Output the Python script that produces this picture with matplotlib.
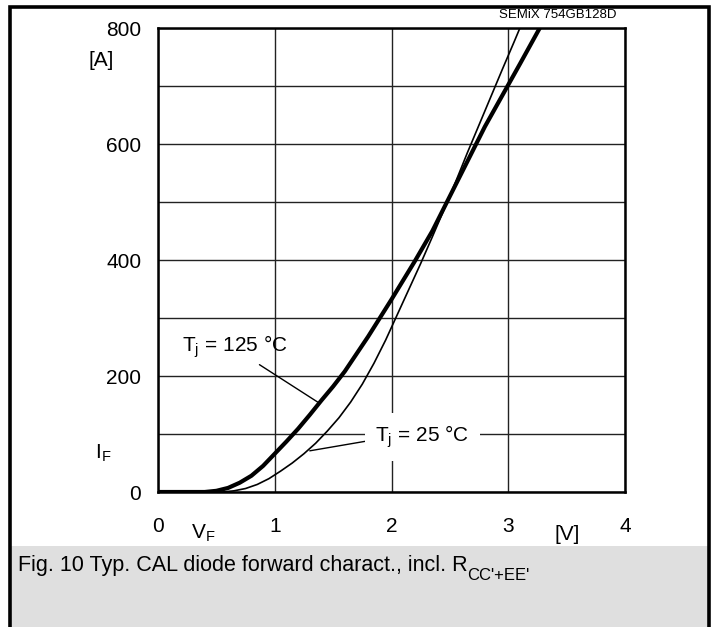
import matplotlib
matplotlib.use('Agg')
import matplotlib.pyplot as plt
from matplotlib.patches import Rectangle
from matplotlib.text import Annotation

plt.rcParams['font.family'] = ['Liberation Sans', 'DejaVu Sans']
plt.rcParams['mathtext.fontset'] = 'custom'
plt.rcParams['mathtext.rm'] = 'Liberation Sans'

# ===================== data =====================
vf_125 = [0, 0.40, 0.50, 0.60, 0.70, 0.80, 0.90, 1.00, 1.10, 1.20, 1.30, 1.40, 1.50, 1.60,
          1.70, 1.80, 1.90, 2.00, 2.10, 2.20, 2.35, 2.50, 2.65, 2.80, 2.95, 3.10, 3.27]
if_125 = [0, 0, 2, 7, 16, 28, 45, 66, 87, 109, 133, 158, 182, 208,
          238, 268, 300, 332, 365, 398, 450, 510, 570, 630, 684, 738, 800]

vf_25 = [0, 0.55, 0.65, 0.75, 0.85, 0.95, 1.05, 1.15, 1.25, 1.35, 1.45, 1.55, 1.65, 1.75,
         1.85, 1.95, 2.05, 2.15, 2.25, 2.35, 2.45, 2.55, 2.65, 2.75, 2.85, 2.95, 3.05, 3.10]
if_25 = [0, 0, 2, 6, 13, 23, 36, 50, 66, 84, 105, 128, 155, 186,
         222, 262, 306, 350, 394, 440, 487, 535, 585, 633, 681, 729, 776, 800]

x_ticks = [0, 1, 2, 3, 4]
y_ticks = [0, 100, 200, 300, 400, 500, 600, 700, 800]
y_labels = ['0', '', '200', '', '400', '', '600', '', '800']

FS = 15

fig = plt.figure(figsize=(7.15, 6.27), dpi=100)
W, H = 715.0, 627.0

# outer frame + grey caption box
fig.patches.append(Rectangle((11 / W, 0), 697 / W, (627 - 546) / H, transform=fig.transFigure,
                             facecolor='#dfdfdf', edgecolor='none', zorder=0))
fig.patches.append(Rectangle((10 / W, -0.02), 699 / W, 1.02 - 7.5 / H, transform=fig.transFigure,
                             facecolor='none', edgecolor='black', linewidth=2.6, zorder=1))

ax = fig.add_axes([158 / W, (627 - 492) / H, (625 - 158) / W, (492 - 28) / H])
ax.plot(vf_125, if_125, color='black', linewidth=3.0, solid_capstyle='butt', zorder=3)
ax.plot(vf_25, if_25, color='black', linewidth=1.2, zorder=3)

ax.set_xlim(0, 4)
ax.set_ylim(0, 800)
ax.set_xticks(x_ticks)
ax.set_xticklabels([str(v) for v in x_ticks])
ax.set_yticks(y_ticks)
ax.set_yticklabels(y_labels)
ax.tick_params(axis='both', length=0, labelsize=FS)
ax.tick_params(axis='x', pad=18)
ax.tick_params(axis='y', pad=12)
ax.grid(True, color='#222222', linewidth=1.0)
ax.set_axisbelow(True)
for s in ax.spines.values():
    s.set_linewidth(1.8)

# curve labels
ax.annotate('T$_\\mathregular{j}$ = 125 °C', xy=(1.368, 155), xytext=(0.658, 250),
            ha='center', va='center', fontsize=FS,
            arrowprops=dict(arrowstyle='-', color='black', lw=1.0, relpos=(0.67, 0.0),
                            shrinkA=2, shrinkB=0))
ax.annotate('T$_\\mathregular{j}$ = 25 °C', xy=(1.30, 71), xytext=(2.265, 95),
            ha='center', va='center', fontsize=FS,
            bbox=dict(boxstyle='square,pad=0.5', facecolor='white', edgecolor='none'),
            arrowprops=dict(arrowstyle='-', color='black', lw=1.0, relpos=(0.0, 0.4),
                            shrinkA=0, shrinkB=0), zorder=4)

# axis captions
fig.text(101 / W, 1 - 61 / H, '[A]', ha='center', va='center', fontsize=FS)
fig.text(103 / W, 1 - 453 / H, 'I$_\\mathregular{F}$', ha='center', va='center', fontsize=FS)
fig.text(203 / W, 1 - 533 / H, 'V$_\\mathregular{F}$', ha='center', va='center', fontsize=FS)
fig.text(567 / W, 1 - 535 / H, '[V]', ha='center', va='center', fontsize=FS)
fig.text(558 / W, 1 - 15 / H, 'SEMiX 754GB128D', ha='center', va='center', fontsize=9.5)
cap = fig.text(18 / W, 1 - 565 / H, "Fig. 10 Typ. CAL diode forward charact., incl. R",
               ha='left', va='center', fontsize=15.5)
# subscript of R, hung off the caption's bounding box
fig.add_artist(Annotation("CC'+EE'", xy=(1.0, 0.0), xycoords=cap,
                          ha='left', va='center', fontsize=12))

fig.savefig('out.png', dpi=100)
